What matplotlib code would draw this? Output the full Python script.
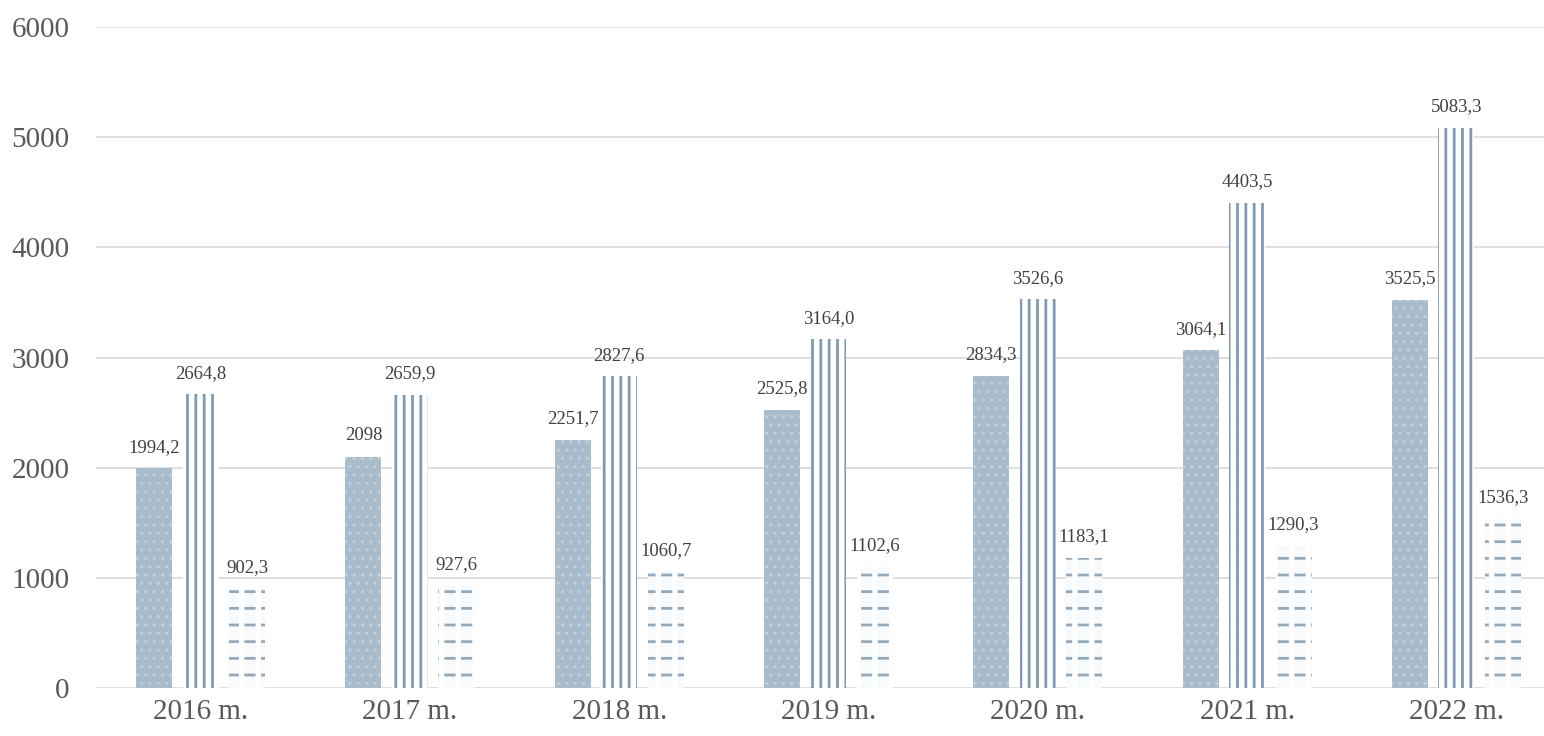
import numpy as np
import matplotlib.pyplot as plt

plt.rcParams['font.family'] = ['Liberation Serif', 'DejaVu Serif']

years = ['2016 m.', '2017 m.', '2018 m.', '2019 m.', '2020 m.', '2021 m.', '2022 m.']
series_a = [1994.2, 2098, 2251.7, 2525.8, 2834.3, 3064.1, 3525.5]
series_b = [2664.8, 2659.9, 2827.6, 3164.0, 3526.6, 4403.5, 5083.3]
series_c = [902.3, 927.6, 1060.7, 1102.6, 1183.1, 1290.3, 1536.3]
labels_a = ['1994,2', '2098', '2251,7', '2525,8', '2834,3', '3064,1', '3525,5']
labels_b = ['2664,8', '2659,9', '2827,6', '3164,0', '3526,6', '4403,5', '5083,3']
labels_c = ['902,3', '927,6', '1060,7', '1102,6', '1183,1', '1290,3', '1536,3']

fig = plt.figure(figsize=(15.44, 7.36), dpi=100)
ax = fig.add_axes([96 / 1544, 48 / 736, (1561 - 96) / 1544, (688 - 27) / 736])

x = np.arange(len(years))
w = 0.172
off = 0.222

# dotted blue-grey bars
plt.rcParams['hatch.linewidth'] = 1.0
b1 = ax.bar(x - off, series_a, w, color='#a9bccb', edgecolor='#c3d1dc', hatch='..', linewidth=0, zorder=3)

# striped bars
plt.rcParams['hatch.linewidth'] = 2.0
b2 = ax.bar(x, series_b, w, color='white', edgecolor='#8199b0', hatch='||', linewidth=0, zorder=3)

# dashed bars: horizontal lines broken up by white vertical stripes
plt.rcParams['hatch.linewidth'] = 2.0
b3 = ax.bar(x + off, series_c, w, color='#f7fbfd', edgecolor='#94a8b9', hatch='-', linewidth=0, zorder=3)
plt.rcParams['hatch.linewidth'] = 4.0
ax.bar(x + off, series_c, w, color='none', edgecolor='white', hatch='|', linewidth=0, zorder=4)

for bars, labs in [(b1, labels_a), (b2, labels_b), (b3, labels_c)]:
    for rect, lab in zip(bars, labs):
        ax.annotate(lab, (rect.get_x() + rect.get_width() / 2, rect.get_height()),
                    xytext=(0, 9), textcoords='offset points', ha='center', va='bottom',
                    fontsize=13.5, color='#404040', zorder=5)

ax.set_xlim(-0.5, 6.5)
ax.set_ylim(0, 6000)
ax.set_yticks(np.arange(0, 6001, 1000))
ax.set_xticks(x)
ax.set_xticklabels(years)
ax.tick_params(axis='both', length=0, labelsize=21, labelcolor='#595959')
ax.tick_params(axis='y', pad=19)
ax.tick_params(axis='x', pad=8)
ax.grid(axis='y', color='#d9d9d9', linewidth=1.2, zorder=0)
for s in ax.spines.values():
    s.set_visible(False)

fig.savefig('out.png', dpi=100)
